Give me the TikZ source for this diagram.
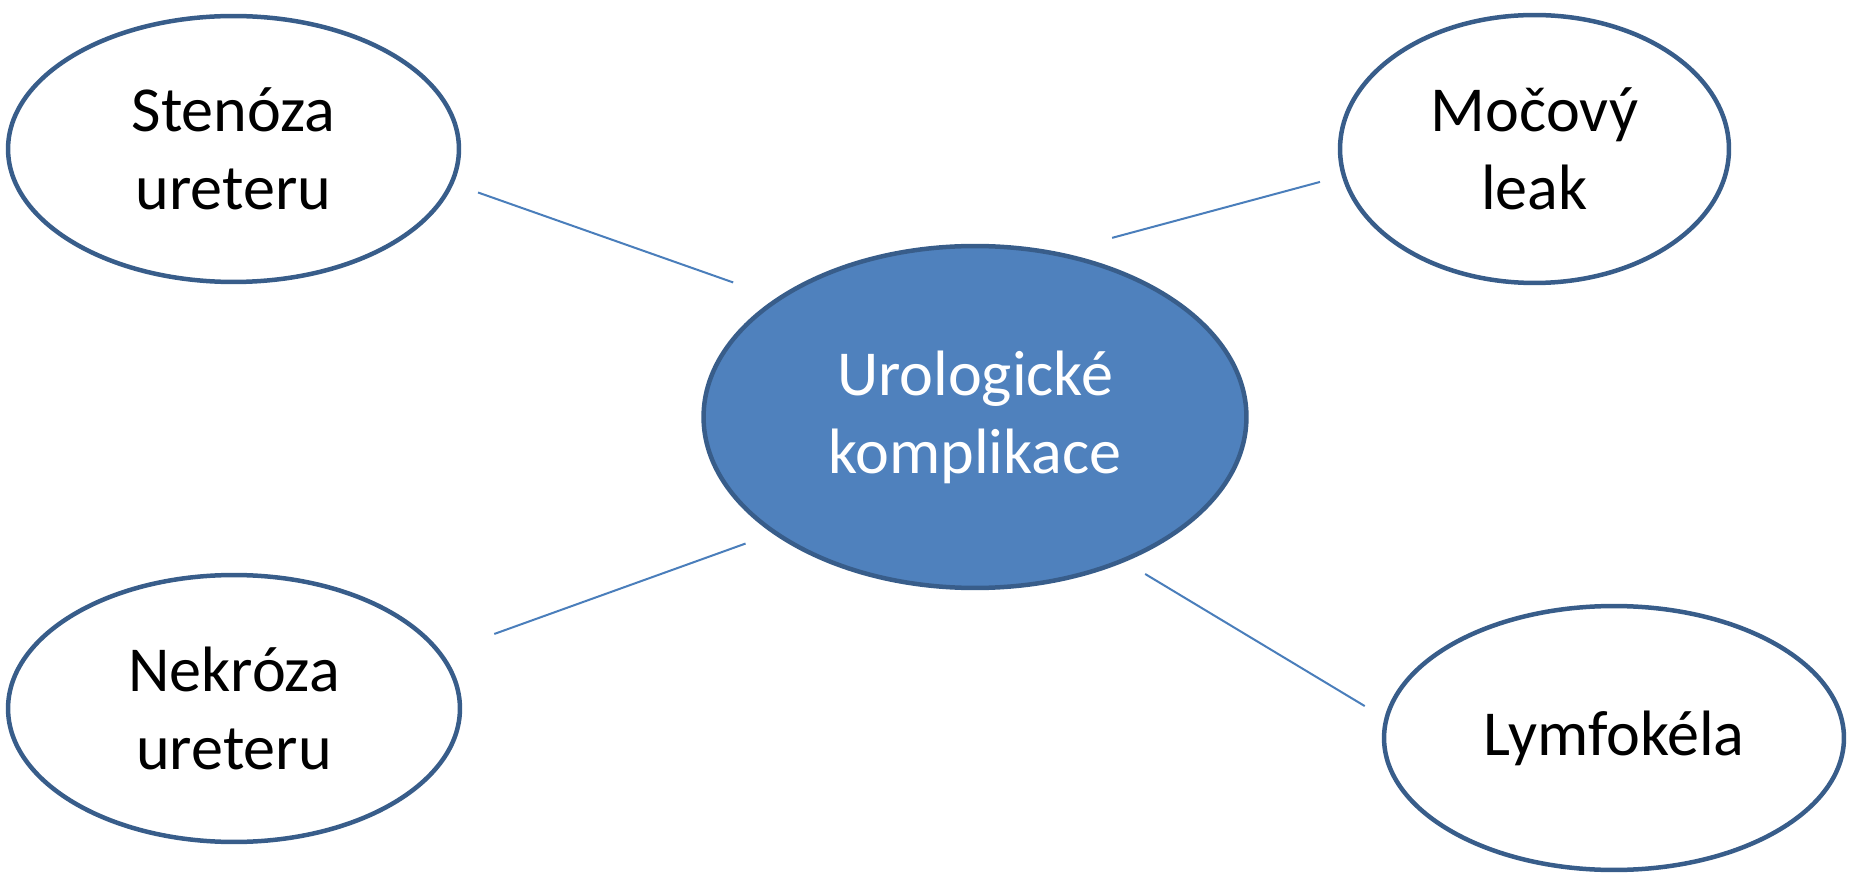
\documentclass[tikz,border=0pt]{standalone}
\usepackage{fontspec}
\setmainfont{Carlito}
\usetikzlibrary{shapes.geometric}
\definecolor{rim}{HTML}{385D8A}
\definecolor{hubfill}{HTML}{4F81BD}
\definecolor{spokeblue}{HTML}{4A7EBB}

\begin{document}
\begin{tikzpicture}[x=0.02cm, y=-0.02cm,
	bubble/.style={ellipse, draw=rim, line width=0.09cm, inner sep=0pt, align=center, font=\fontsize{36.5}{44.5}\selectfont},
	spoke/.style={draw=spokeblue, line width=0.04cm}]
	\useasboundingbox (0,0) rectangle (1849,874);
	\node[bubble, fill=hubfill, text=white, minimum width=10.86cm, minimum height=6.84cm] (uro) at (975,417) {Urologické\\komplikace};
	\node[bubble, minimum width=9.02cm, minimum height=5.32cm] (sten) at (233.5,149) {Stenóza\\ureteru};
	\node[bubble, minimum width=7.78cm, minimum height=5.36cm] (leak) at (1534.5,149) {Močový\\leak};
	\node[bubble, minimum width=9.04cm, minimum height=5.34cm] (nekr) at (234,708.5) {Nekróza\\ureteru};
	\node[bubble, minimum width=9.2cm, minimum height=5.28cm] (lymf) at (1614,738) {Lymfokéla};
	\draw[spoke, shorten <=0.52cm, shorten >=0.92cm] (sten.-9.7) -- (uro.149.6);
	\draw[spoke, shorten <=1.1cm, shorten >=0.45cm] (uro.63.1) -- (leak.-172.5);
	\draw[spoke, shorten <=1.11cm, shorten >=0.58cm] (nekr.15.6) -- (uro.-150);
	\draw[spoke, shorten <=0.47cm, shorten >=0.46cm] (uro.-44.3) -- (lymf.175.6);
\end{tikzpicture}
\end{document}
